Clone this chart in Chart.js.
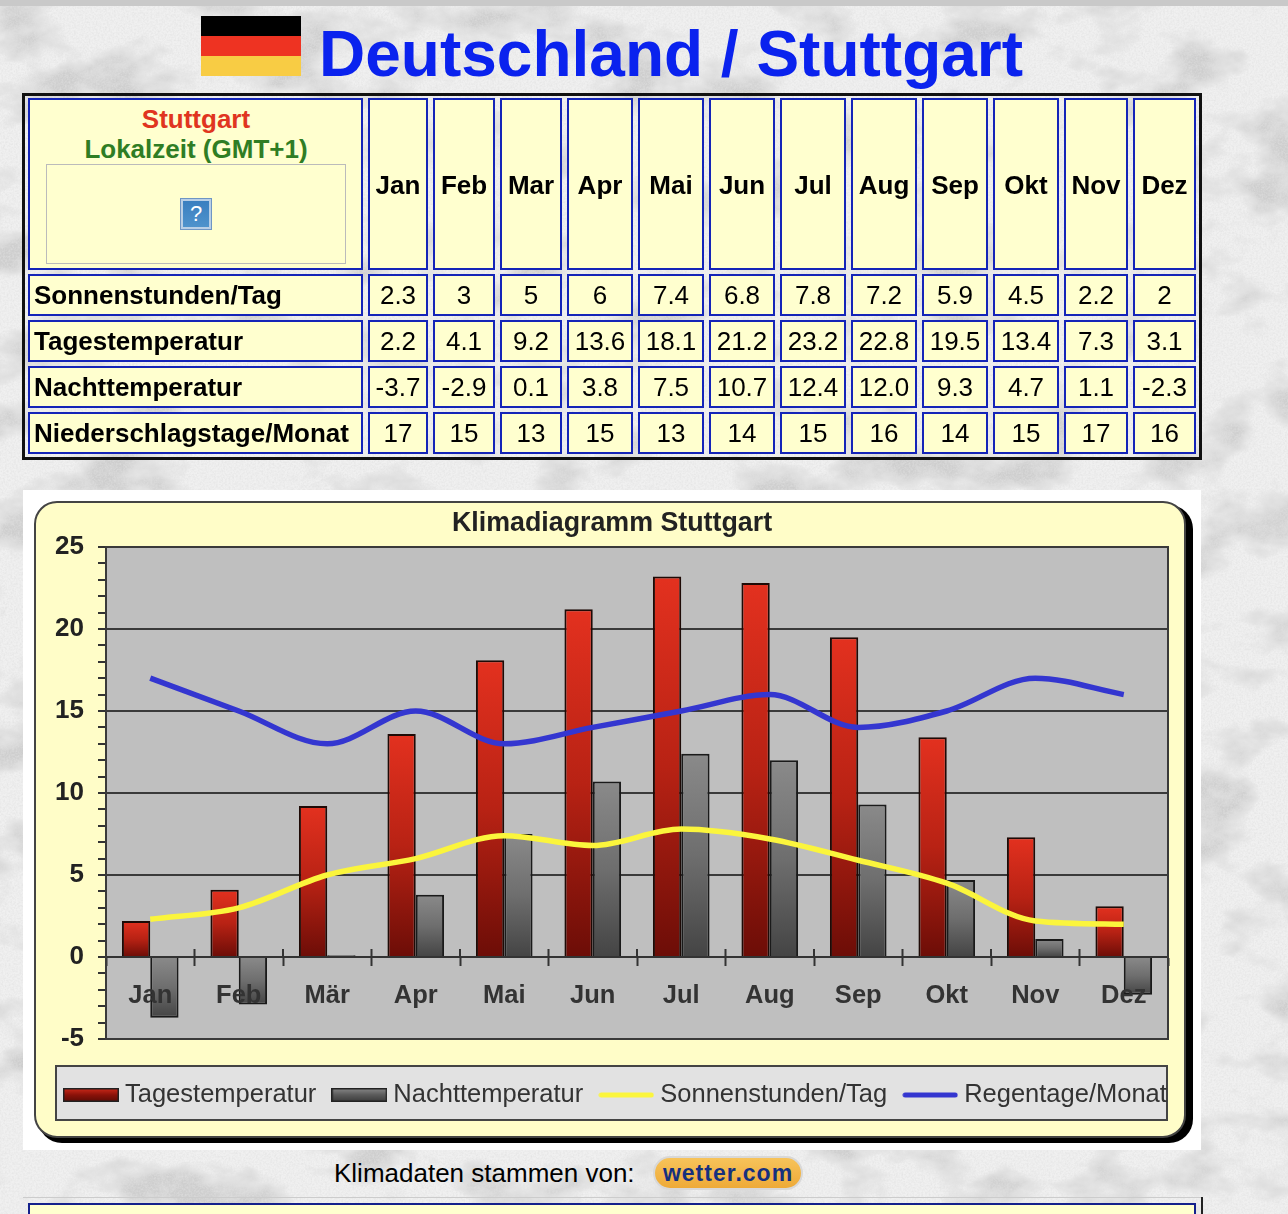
<!DOCTYPE html>
<html lang="de"><head><meta charset="utf-8"><title>Klimadiagramm Stuttgart</title>
<script src="https://cdn.jsdelivr.net/npm/chart.js@4/dist/chart.umd.min.js"></script>
<style>
html,body{margin:0;padding:0;width:1288px;height:1214px;overflow:hidden;background:#ececec;font-family:"Liberation Sans",Arial,sans-serif}
#tex{position:absolute;left:0;top:0}
.abs{position:absolute}
#topbar{left:0;top:0;width:1288px;height:6px;background:#c9c9c9}
#flag{left:201px;top:16px;width:100px;height:60px;background:linear-gradient(#000 0 33.3%,#ee3322 33.3% 66.6%,#f8cc44 66.6%)}
#head{left:319px;top:17px;font:bold 64px/74px "Liberation Sans";color:#0a22ee;white-space:nowrap}
#box{left:22px;top:93px;width:1180px;height:367px;box-sizing:border-box;border:3px solid #111}
#tbl{left:23px;top:94px;border-collapse:separate;border-spacing:5px 4px;table-layout:fixed;filter:blur(.35px)}
#tbl td{box-sizing:border-box;background:#ffffcf;border:2px solid #1424b8;text-align:center;font-size:26px;padding:0;color:#000;height:42px}
#tbl td.b{font-weight:bold;padding-top:2px}
#tbl td.l{font-weight:bold;text-align:left;padding-left:4px;white-space:nowrap}
#city{left:28px;top:104px;width:336px;text-align:center;font:bold 26px/30px "Liberation Sans";color:#e03520}
#zeit{left:28px;top:134px;width:336px;text-align:center;font:bold 26px/30px "Liberation Sans";color:#2f7d24}
#clock{left:46px;top:164px;width:300px;height:100px;box-sizing:border-box;border:1px solid #bbb}
#ico{left:181px;top:199px;width:30px;height:30px;box-sizing:border-box;border:2px solid #b9cfe6;outline:1px solid #6f96c4;background:linear-gradient(#3a7fc0,#4f93cc);color:#fff;font:22px/26px "Liberation Sans";text-align:center}
#cwrap{left:23px;top:490px;width:1178px;height:660px;filter:blur(.45px)}
#src{left:334px;top:1158px;font:26px/30px "Liberation Sans";color:#000;white-space:nowrap}
#badge{left:653px;top:1156px;width:150px;height:34px;box-sizing:border-box;border:2px solid #d8d8d8;border-radius:17px;background:linear-gradient(#f7c35a,#eeaa38);color:#16307e;font:bold 23px/30px "Liberation Sans";text-align:center;letter-spacing:1px}
#lnA{left:23px;top:1197px;width:1178px;height:1px;background:#ccc}
#lnB{left:1201px;top:1197px;width:1.5px;height:17px;background:#222}
#foot{left:28px;top:1203px;width:1168px;height:20px;box-sizing:border-box;border:2px solid #14208c;background:#ffffcf}
</style></head><body>
<svg id="tex" width="1288" height="1214" xmlns="http://www.w3.org/2000/svg">
<defs>
<filter id="blot" x="0" y="0" width="100%" height="100%"><feTurbulence type="fractalNoise" baseFrequency="0.012 0.018" numOctaves="5" seed="11"/><feColorMatrix type="matrix" values="0 0 0 0 .62  0 0 0 0 .62  0 0 0 0 .62  3.4 0 0 0 -1.62"/></filter>
<filter id="grain" x="0" y="0" width="100%" height="100%"><feTurbulence type="fractalNoise" baseFrequency="0.55" numOctaves="2" seed="4"/><feColorMatrix type="matrix" values="0 0 0 0 .75  0 0 0 0 .75  0 0 0 0 .75  1.3 0 0 0 -.45"/></filter>
</defs>
<rect width="1288" height="1214" fill="#f0f0f0"/>
<rect width="1288" height="1214" filter="url(#blot)"/>
<rect width="1288" height="1214" filter="url(#grain)"/>
</svg>
<div class="abs" id="topbar"></div>
<div class="abs" id="flag"></div>
<div class="abs" id="head">Deutschland / Stuttgart</div>
<div class="abs" id="box"></div>
<table class="abs" id="tbl"><colgroup id="cols"></colgroup><tbody id="tb"></tbody></table>
<div class="abs" id="city">Stuttgart</div>
<div class="abs" id="zeit">Lokalzeit (GMT+1)</div>
<div class="abs" id="clock"></div>
<div class="abs" id="ico">?</div>
<div class="abs" id="cwrap"><canvas id="c" width="1178" height="660" style="width:1178px;height:660px;display:block"></canvas></div>
<div class="abs" id="src">Klimadaten stammen von:</div>
<div class="abs" id="badge">wetter.com</div>
<div class="abs" id="lnA"></div><div class="abs" id="lnB"></div>
<div class="abs" id="foot"></div>
<script>
// ---- data ----
const tableMonths = ["Jan","Feb","Mar","Apr","Mai","Jun","Jul","Aug","Sep","Okt","Nov","Dez"];
const chartMonths = ["Jan","Feb","Mär","Apr","Mai","Jun","Jul","Aug","Sep","Okt","Nov","Dez"];
const sonnenstunden = [2.3,3,5,6,7.4,6.8,7.8,7.2,5.9,4.5,2.2,2];
const tagestemperatur = [2.2,4.1,9.2,13.6,18.1,21.2,23.2,22.8,19.5,13.4,7.3,3.1];
const nachttemperatur = [-3.7,-2.9,0.1,3.8,7.5,10.7,12.4,12.0,9.3,4.7,1.1,-2.3];
const regentage = [17,15,13,15,13,14,15,16,14,15,17,16];
const nachtText = ["-3.7","-2.9","0.1","3.8","7.5","10.7","12.4","12.0","9.3","4.7","1.1","-2.3"];
const columnWidths = [335,60,62,62,66,66,66,66,66,66,66,64,63];

// ---- html table ----
document.getElementById('cols').innerHTML = columnWidths.map(w=>`<col style="width:${w}px">`).join('');
document.getElementById('tbl').style.width = (columnWidths.reduce((a,b)=>a+b,0)+5*14)+'px';
const rows = [["Sonnenstunden/Tag",sonnenstunden],["Tagestemperatur",tagestemperatur],["Nachttemperatur",nachtText],["Niederschlagstage/Monat",regentage]];
let html = '<tr><td style="height:172px"></td>'+tableMonths.map(m=>`<td class="b">${m}</td>`).join('')+'</tr>';
for(const [n,v] of rows) html += `<tr><td class="l">${n}</td>`+v.map(x=>`<td>${x}</td>`).join('')+'</tr>';
document.getElementById('tb').innerHTML = html;

// ---- chart ----
const FONT = '"Liberation Sans"';
const canvas = document.getElementById('c');
function vGrad(ctx,y0,y1,stops){const g=ctx.createLinearGradient(0,y0,0,y1);stops.forEach((c,i)=>g.addColorStop(i/(stops.length-1),c));return g;}
const redStops=['#e3311f','#b82214','#6c0d07'], greyStops=['#8a8a8a','#6e6e6e','#444444'];
function barFill(stops){return c=>{
  if(c.dataIndex===undefined) return stops[0];
  const y=c.chart.scales.y, v=c.dataset.data[c.dataIndex];
  const a=y.getPixelForValue(Math.max(v,0)), b=y.getPixelForValue(Math.min(v,0));
  return vGrad(c.chart.ctx,a,b,stops);
};}
function swatch(kind,color,stops){
  const s=document.createElement('canvas');s.width=56;s.height=14;const c=s.getContext('2d');
  if(kind==='bar'){c.fillStyle=vGrad(c,0,14,stops);c.fillRect(0,0,56,14);c.strokeStyle='#222';c.lineWidth=1.5;c.strokeRect(.75,.75,54.5,12.5);}
  else{c.strokeStyle=color;c.lineWidth=5;c.lineCap='round';c.beginPath();c.moveTo(3,7);c.lineTo(53,7);c.stroke();}
  return s;
}
function rr(ctx,x,y,w,h,r){ctx.beginPath();ctx.roundRect(x,y,w,h,r);}
const frame={id:'frame',
  beforeLayout(ch){const l=ch.legend; if(l&&!l._fixed){const f=l.fit;l.fit=function(){f.call(this);this.height=111;};l._fixed=true;}},
  afterLayout(ch){const l=ch.legend; if(l){l.left=25;l.right=1178;l.top=570.5;}
    const t=ch.titleBlock; if(t){t.left=0;t.right=1178;}},
  beforeDraw(ch){const c=ch.ctx,a=ch.chartArea;c.save();
    c.fillStyle='#fff';c.fillRect(0,0,ch.width,ch.height);
    c.fillStyle='#000';rr(c,15,15,1155,638,24);c.fill();
    c.fillStyle='#fffdc8';c.strokeStyle='#444';c.lineWidth=2;rr(c,12,12,1150,635,22);c.fill();c.stroke();
    c.fillStyle='#bfbfbf';c.fillRect(a.left,a.top,a.width,a.height);
    c.fillStyle='#e2e2e2';c.strokeStyle='#444';c.lineWidth=2;c.fillRect(33,576,1111,54);c.strokeRect(33,576,1111,54);
    c.restore();},
  afterDatasetsDraw(ch){const c=ch.ctx,a=ch.chartArea,x=ch.scales.x,y=ch.scales.y;c.save();
    c.strokeStyle='#3a3a3a';c.lineWidth=2;c.strokeRect(a.left,a.top,a.width,a.height);
    c.lineWidth=2;c.strokeStyle='#333';c.beginPath();
    for(let i=1;i<chartMonths.length;i++){const px=(x.getPixelForTick(i-1)+x.getPixelForTick(i))/2,py=y.getPixelForValue(0);c.moveTo(px,py-8);c.lineTo(px,py);}
    c.stroke();c.restore();}
};
new Chart(canvas,{
  type:'bar',
  plugins:[frame],
  data:{labels:chartMonths,datasets:[
    {type:'bar',label:'Tagestemperatur',data:tagestemperatur,backgroundColor:barFill(redStops),borderColor:'#1e0a06',borderWidth:2,categoryPercentage:.64,barPercentage:1,order:2},
    {type:'bar',label:'Nachttemperatur',data:nachttemperatur,backgroundColor:barFill(greyStops),borderColor:'#1a1a1a',borderWidth:2,categoryPercentage:.64,barPercentage:1,order:2},
    {type:'line',label:'Sonnenstunden/Tag',data:sonnenstunden,borderColor:'#fbf53c',borderWidth:5.5,pointRadius:0,cubicInterpolationMode:'monotone',order:1},
    {type:'line',label:'Regentage/Monat',data:regentage,borderColor:'#3436d0',borderWidth:5.5,pointRadius:0,cubicInterpolationMode:'monotone',order:1}
  ]},
  options:{
    responsive:false,animation:false,
    layout:{padding:{left:0,right:33,top:0,bottom:0}},
    plugins:{
      title:{display:true,text:'Klimadiagramm Stuttgart',color:'#222',font:{family:FONT,size:26.8,weight:'bold',lineHeight:1},padding:{top:20,bottom:10.2}},
      tooltip:{enabled:false},
      legend:{display:true,position:'bottom',align:'start',labels:{
        font:{family:FONT,size:25.5},color:'#333',padding:21.75,usePointStyle:true,pointStyleWidth:42.5,boxHeight:14,boxWidth:42.5,
        generateLabels(ch){const st=[['#d02a1a','#8a1209','#5a0b05'],['#8a8a8a','#5a5a5a','#3a3a3a']];
          return ch.data.datasets.map((d,i)=>({text:d.label,datasetIndex:i,hidden:false,
            pointStyle:i<2?swatch('bar',null,st[i]):swatch('line',d.borderColor),fillStyle:d.borderColor,strokeStyle:d.borderColor,lineWidth:1,fontColor:'#333'}));}
      }}
    },
    scales:{
      x:{axis:'x',type:'category',position:{y:0},offset:true,
        grid:{offset:true,drawOnChartArea:false,drawTicks:true,tickLength:8,tickColor:'#333',tickWidth:2},
        border:{display:true,color:'#333',width:2},
        ticks:{z:1,padding:16,maxRotation:0,autoSkip:false,color:'#333',font:{family:FONT,size:25.5,weight:'bold'}}},
      y:{type:'linear',min:-5,max:25,
        afterFit(s){s.width=83;},
        grid:{color:c=>(c.tick&&c.tick.value%5===0)?'#3a3a3a':'rgba(0,0,0,0)',lineWidth:2,tickColor:'#333',tickLength:8,tickWidth:2},
        border:{display:true,color:'#3a3a3a',width:2},
        ticks:{stepSize:1,autoSkip:false,padding:14,color:'#222',font:{family:FONT,size:26,weight:'bold'},callback:v=>v%5===0?String(v):''}}
    }
  }
});
</script>
</body></html>
